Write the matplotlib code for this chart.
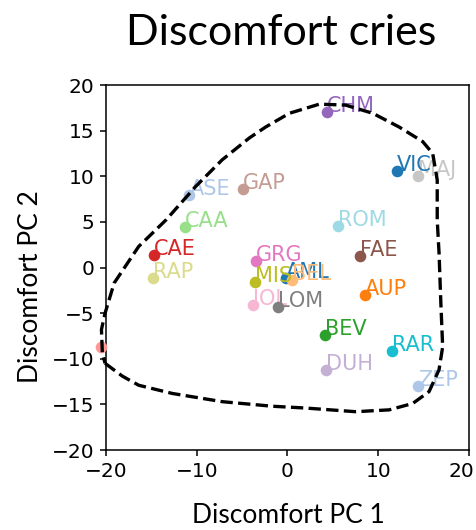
import matplotlib

matplotlib.use("Agg")
import matplotlib.pyplot as plt
from matplotlib.transforms import ScaledTranslation

# cry types (alphabetical, coloured by tab20 in order)
names = ["AML", "ASE", "AUP", "BEL", "BEV", "CAA", "CAE", "CEL", "CHM", "DUH", "FAE",
         "GAP", "GRG", "IOL", "LOM", "MAJ", "MIS", "RAP", "RAR", "ROM", "VIC", "ZEP"]
pc1 = [-0.2, -10.8, 8.5, 0.5, 4.1, -11.3, -14.7, -20.6, 4.3, 4.2, 8.0,
       -4.9, -3.5, -3.8, -1.0, 14.4, -3.6, -14.8, 11.5, 5.6, 12.1, 14.4]
pc2 = [-1.2, 8.0, -3.0, -1.4, -7.4, 4.4, 1.4, -8.7, 17.0, -11.2, 1.3,
       8.6, 0.7, -4.1, -4.3, 10.0, -1.6, -1.1, -9.2, 4.5, 10.6, -13.0]

# dashed boundary around the discomfort region
bound_x = [-20.1, -18.2, -16.4, -12.7, -7.2, -1.7, 2.0, 7.5, 11.2, 13.8, 15.6, 16.7, 17.1,
           16.9, 16.7, 16.5, 16.5, 16.0, 14.9, 12.3, 9.4, 6.4, 3.5, 0.2, -2.4, -4.2, -7.2,
           -10.1, -13.4, -16.4, -19.1, -20.1, -20.5, -20.4, -20.1]
bound_y = [-10.5, -11.9, -12.9, -13.8, -14.7, -15.2, -15.4, -15.8, -15.6, -14.9, -13.6, -11.2,
           -8.7, -3.9, 1.6, 5.2, 9.6, 12.5, 13.8, 15.4, 16.9, 17.8, 17.9, 16.9, 15.4, 14.2,
           11.8, 8.9, 5.2, 2.3, -1.7, -5.0, -6.8, -9.4, -10.5]

label_font = "Lato"

fig = plt.figure(figsize=(4.77, 5.30), dpi=100)
ax = fig.add_axes([0.2222, 0.1509, 0.761, 0.6887])

cmap = plt.get_cmap("tab20")
for i, (name, x, y) in enumerate(zip(names, pc1, pc2)):
    col = cmap(i % 20)
    ax.scatter([x], [y], s=70, color=col, linewidths=0, zorder=3, clip_on=False)
    ax.annotate(name, (x, y), color=col, fontsize=15, zorder=3)

ax.plot(bound_x, bound_y, color="black", linestyle="--", linewidth=2.4, zorder=4, clip_on=False)

ax.set_xlim(-20, 20)
ax.set_ylim(-20, 20)
ax.set_xticks([-20, -10, 0, 10, 20])
ax.set_yticks([-20, -15, -10, -5, 0, 5, 10, 15, 20])
ax.tick_params(labelsize=14.5, length=4.5, width=1.1, pad=4)
for sp in ax.spines.values():
    sp.set_linewidth(1.1)

# last x tick label sits a bit left so it stays inside the picture
last = ax.get_xticklabels()[-1]
last.set_transform(last.get_transform() + ScaledTranslation(-8 / 100, 0, fig.dpi_scale_trans))

fig.text(281 / 477, 1 - 45 / 530, "Discomfort cries", fontsize=31, family=label_font,
         ha="center", va="baseline")
fig.text(288 / 477, 1 - 523 / 530, "Discomfort PC 1", fontsize=19, family=label_font,
         ha="center", va="baseline")
fig.text(38 / 477, 1 - 287 / 530, "Discomfort PC 2", fontsize=19, family=label_font,
         ha="center", va="baseline", rotation=90, rotation_mode="anchor")

fig.savefig("out.png", dpi=100)
